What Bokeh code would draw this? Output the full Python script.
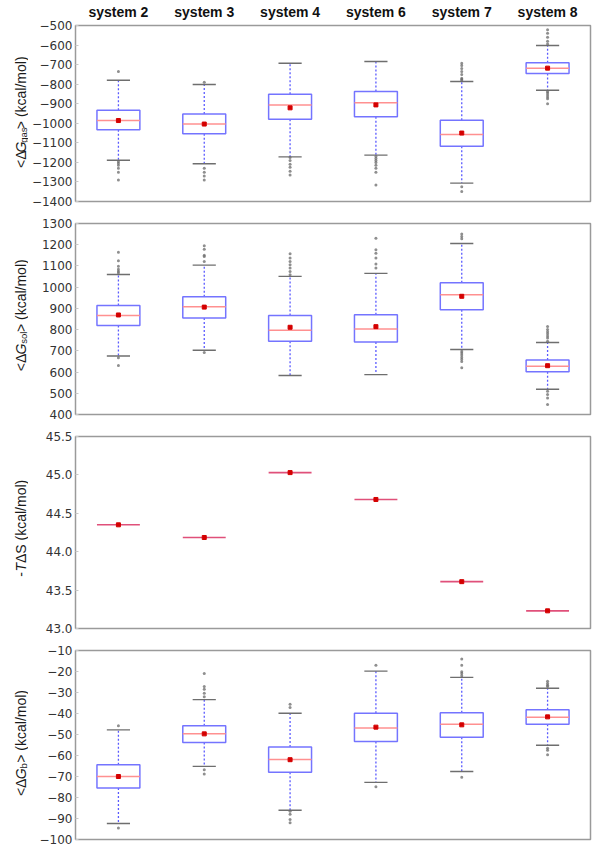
import math
from bokeh.plotting import figure
from bokeh.models import Range1d, FixedTicker, LinearAxis
from bokeh.layouts import column, row
from bokeh.core.properties import value
from bokeh.embed import file_html
from bokeh.resources import INLINE

systems = ["system 2", "system 3", "system 4", "system 6", "system 7", "system 8"]

# <dG_gas>
gas_lo = [-1189, -1207, -1172, -1163, -1306, -831]
gas_q1 = [-1033, -1054, -979, -967, -1117, -745]
gas_med = [-986, -1004, -907, -895, -1057, -718]
gas_q3 = [-933, -953, -851, -837, -984, -691]
gas_hi = [-780, -802, -693, -684, -786, -602]
gas_mean = [-986, -1004, -921, -906, -1050, -718]
gas_out = [
    [-735, -1196, -1205, -1215, -1230, -1250, -1290],
    [-790, -1230, -1250, -1270, -1290],
    [-1175, -1190, -1210, -1225, -1245, -1265],
    [-1170, -1180, -1190, -1200, -1215, -1230, -1250, -1315],
    [-693, -705, -720, -735, -750, -770, -775, -780, -1325, -1349],
    [-522, -540, -560, -580, -595, -838, -845, -855, -865, -875, -900],
]
gas_ticks = [-1400, -1300, -1200, -1100, -1000, -900, -800, -700, -600, -500]

# <dG_sol>
sol_lo = [676, 703, 584, 588, 706, 519]
sol_q1 = [819, 855, 745, 742, 894, 601]
sol_med = [866, 908, 797, 803, 964, 627]
sol_q3 = [914, 955, 866, 870, 1021, 657]
sol_hi = [1060, 1104, 1051, 1065, 1206, 739]
sol_mean = [869, 906, 811, 814, 957, 630]
sol_out = [
    [1165, 1124, 1098, 1085, 1075, 1068, 667, 631],
    [1195, 1179, 1150, 1145, 1121, 692],
    [1157, 1137, 1121, 1106, 1090, 1074, 1059],
    [1231, 1176, 1160, 1137, 1109, 1090],
    [1250, 1239, 1228, 698, 690, 680, 670, 660, 650, 620],
    [815, 800, 790, 780, 770, 760, 745, 510, 494, 478, 447],
]
sol_ticks = [400, 500, 600, 700, 800, 900, 1000, 1100, 1200, 1300]

# -T dS
ent_val = [44.35, 44.185, 45.03, 44.68, 43.61, 43.23]
ent_ticks = [43.0, 43.5, 44.0, 44.5, 45.0, 45.5]

# <dG_b>
bind_lo = [-92.4, -65.2, -86.1, -72.8, -67.6, -55.1]
bind_q1 = [-75.5, -53.8, -68.0, -53.3, -51.3, -45.1]
bind_med = [-70.0, -49.7, -61.9, -46.9, -45.1, -41.8]
bind_q3 = [-64.4, -45.8, -55.9, -39.9, -39.6, -38.2]
bind_hi = [-47.8, -33.4, -39.9, -19.8, -22.8, -28.0]
bind_mean = [-70.0, -49.7, -62.0, -46.5, -45.4, -41.6]
bind_out = [
    [-45.8, -94.5],
    [-20.9, -27.2, -28.4, -30.4, -32.0, -66.8, -68.8],
    [-35.6, -37.2, -86.5, -88.0, -90.5, -92.0],
    [-17.0, -74.9],
    [-14.1, -17.0, -20.1, -21.0, -22.0, -70.4],
    [-24.6, -25.7, -26.5, -27.2, -56.5, -57.5, -59.7],
]
bind_ticks = [-100, -90, -80, -70, -60, -50, -40, -30, -20, -10]

xpos = list(range(1, len(systems) + 1))
BOX_HALF = 0.25
CAP_HALF = 0.135

LABEL_FONT = "Liberation Sans"
TICK_FONT = "DejaVu Sans"
LAB_W = 28          # width of the strip that holds the rotated y-axis title
FRAME_W = 515

# Arial-compatible advance widths (per 1000 em) for composing the y labels
ADV = {'<': 584, '>': 584, ' ': 278, '(': 333, ')': 333, 'k': 500, 'c': 500, 'a': 556,
       'l': 222, '/': 278, 'm': 833, 'o': 556, 'G': 778, 'g': 556, 's': 500, 'b': 556,
       'T': 611, 'S': 667, '-': 333, 'Δ': 668}
GAP = 1.0


def text_w(s, size):
    return sum(ADV.get(c, 556) for c in s) / 1000.0 * size


def fmt(t, decimals=0):
    return f"{t:.{decimals}f}".replace("-", "\u2212")


def make_fig(yr, ticks, decimals, frame_h, top_b, bot_b):
    p = figure(frame_width=FRAME_W, frame_height=frame_h, title=None,
               x_range=Range1d(0.5, 6.5), y_range=Range1d(*yr),
               output_backend="svg", toolbar_location=None,
               x_axis_location=None, y_axis_location=None,
               min_border_left=75 - LAB_W, min_border_right=8,
               min_border_top=top_b, min_border_bottom=bot_b)
    p.xgrid.visible = False
    p.ygrid.visible = False
    p.outline_line_color = "#9a9a9a"
    p.outline_line_width = 1.5
    ax = LinearAxis(ticker=FixedTicker(ticks=ticks),
                    major_label_overrides={t: fmt(t, decimals) for t in ticks})
    ax.axis_line_color = None
    ax.major_tick_in = 3
    ax.major_tick_out = 0
    ax.minor_tick_line_color = None
    ax.major_tick_line_color = "#c8c8c8"
    ax.major_label_standoff = 3
    ax.major_label_text_font = TICK_FONT
    ax.major_label_text_font_size = "12px"
    ax.major_label_text_color = "#333333"
    p.add_layout(ax, "left")
    return p


def label_strip(frame_h, top_b, bot_b, pieces):
    h = frame_h + top_b + bot_b
    q = figure(width=LAB_W, height=h, x_range=Range1d(0, LAB_W), y_range=Range1d(0, h),
               output_backend="svg", toolbar_location=None, title=None,
               x_axis_location=None, y_axis_location=None, min_border=0)
    q.xgrid.visible = False
    q.ygrid.visible = False
    q.outline_line_color = None
    total = sum(text_w(s, size) for s, style, size, dy in pieces) + GAP * (len(pieces) - 1)
    y = bot_b + (frame_h - total) / 2.0
    for s, style, size, dy in pieces:
        q.text(x=[20 + dy], y=[y], text=[s], angle=math.pi / 2,
               text_align="left", text_baseline="alphabetic",
               text_font=value(LABEL_FONT), text_font_style=value(style),
               text_font_size=value(f"{size}px"), text_color="#1a1a1a")
        y += text_w(s, size) + GAP
    return q


def draw_boxes(p, lo, q1, med, q3, hi, mean, outs):
    p.segment(x0=xpos, y0=q3, x1=xpos, y1=hi, line_color="#5a5aff",
              line_width=1.3, line_dash="2 2")
    p.segment(x0=xpos, y0=q1, x1=xpos, y1=lo, line_color="#5a5aff",
              line_width=1.3, line_dash="2 2")
    cx0 = [x - CAP_HALF for x in xpos]
    cx1 = [x + CAP_HALF for x in xpos]
    p.segment(x0=cx0, y0=hi, x1=cx1, y1=hi, line_color="#6e6e6e", line_width=1.4)
    p.segment(x0=cx0, y0=lo, x1=cx1, y1=lo, line_color="#6e6e6e", line_width=1.4)
    ox, oy = [], []
    for x, lst in zip(xpos, outs):
        ox += [x] * len(lst)
        oy += lst
    p.scatter(ox, oy, marker="circle", size=3, fill_color="#6a6a6a",
              line_color=None, fill_alpha=0.75)
    bx0 = [x - BOX_HALF for x in xpos]
    bx1 = [x + BOX_HALF for x in xpos]
    p.quad(left=bx0, right=bx1, bottom=q1, top=q3, fill_color=None,
           line_color="#7474ff", line_width=1.5)
    p.segment(x0=bx0, y0=med, x1=bx1, y1=med, line_color="#ff9090", line_width=1.5)
    p.scatter(xpos, mean, marker="square", size=4, fill_color="#d40000",
              line_color="#d40000")


FH = [176, 191, 192, 189]
TB = [24, 11, 11, 11]
BB = [11, 11, 11, 8]

p1 = make_fig((-1400, -500), gas_ticks, 0, FH[0], TB[0], BB[0])
draw_boxes(p1, gas_lo, gas_q1, gas_med, gas_q3, gas_hi, gas_mean, gas_out)
top = LinearAxis(ticker=FixedTicker(ticks=xpos),
                 major_label_overrides={x: s for x, s in zip(xpos, systems)})
top.axis_line_color = None
top.major_tick_line_color = None
top.minor_tick_line_color = None
top.major_tick_out = 0
top.major_tick_in = 0
top.major_label_standoff = 6
top.major_label_text_font = LABEL_FONT
top.major_label_text_font_style = "bold"
top.major_label_text_font_size = "14px"
top.major_label_text_color = "#111111"
p1.add_layout(top, "above")
l1 = label_strip(FH[0], TB[0], BB[0], [("<Δ", "normal", 14, 0), ("G", "italic", 14, 0),
                                       ("gas", "normal", 9.5, 3), ("> (kcal/mol)", "normal", 14, 0)])

p2 = make_fig((400, 1300), sol_ticks, 0, FH[1], TB[1], BB[1])
draw_boxes(p2, sol_lo, sol_q1, sol_med, sol_q3, sol_hi, sol_mean, sol_out)
l2 = label_strip(FH[1], TB[1], BB[1], [("<Δ", "normal", 14, 0), ("G", "italic", 14, 0),
                                       ("sol", "normal", 9.5, 3), ("> (kcal/mol)", "normal", 14, 0)])

p3 = make_fig((43.0, 45.5), ent_ticks, 1, FH[2], TB[2], BB[2])
p3.segment(x0=[x - BOX_HALF for x in xpos], y0=ent_val,
           x1=[x + BOX_HALF for x in xpos], y1=ent_val,
           line_color="#e0507a", line_width=1.6)
p3.scatter(xpos, ent_val, marker="square", size=4, fill_color="#d40000",
           line_color="#d40000")
l3 = label_strip(FH[2], TB[2], BB[2], [("-", "normal", 14, 0), ("T", "italic", 14, 0),
                                       ("ΔS (kcal/mol)", "normal", 14, 0)])

p4 = make_fig((-100, -10), bind_ticks, 0, FH[3], TB[3], BB[3])
draw_boxes(p4, bind_lo, bind_q1, bind_med, bind_q3, bind_hi, bind_mean, bind_out)
l4 = label_strip(FH[3], TB[3], BB[3], [("<Δ", "normal", 14, 0), ("G", "italic", 14, 0),
                                       ("b", "normal", 9.5, 3), ("> (kcal/mol)", "normal", 14, 0)])

layout = column(row(l1, p1), row(l2, p2), row(l3, p3), row(l4, p4), spacing=0)
open("out.html", "w").write(file_html(layout, INLINE))
